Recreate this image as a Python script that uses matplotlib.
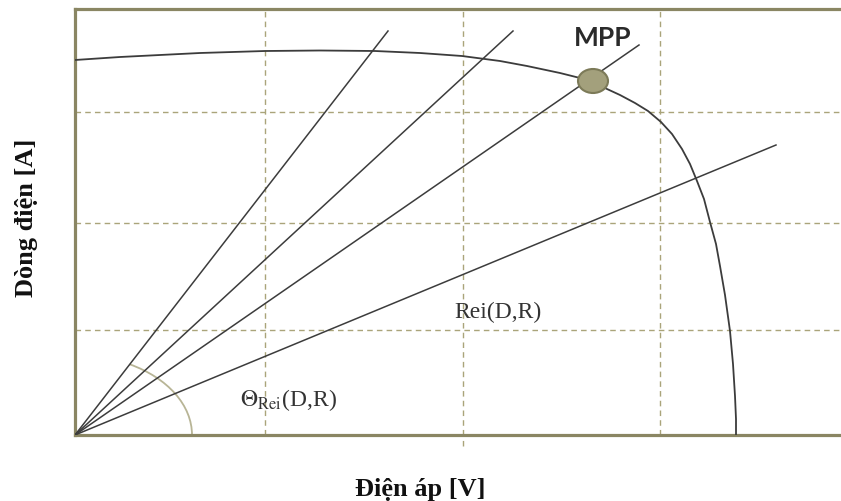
import numpy as np
import matplotlib
matplotlib.use('Agg')
import matplotlib.pyplot as plt
from matplotlib.patches import Arc, Ellipse

# I-V curve of the panel
voltage = [0.0, 0.45, 1.25, 1.90, 2.45, 3.00, 3.45, 3.87, 4.25, 4.52, 4.85,
           5.17, 5.32, 5.45, 5.60, 5.73, 5.86, 5.97, 6.07, 6.15, 6.22, 6.29,
           6.35, 6.41, 6.45, 6.50, 6.55, 6.58, 6.60, 6.61, 6.61]
current = [3.75, 3.78, 3.82, 3.84, 3.845, 3.84, 3.82, 3.79, 3.74, 3.69, 3.62,
           3.54, 3.46, 3.40, 3.32, 3.24, 3.13, 3.01, 2.86, 2.71, 2.54, 2.36,
           2.13, 1.91, 1.69, 1.40, 1.04, 0.71, 0.39, 0.16, 0.0]

# load lines from origin, end points
load_end_v = [3.13, 4.38, 5.64, 7.01]
load_end_i = [4.04, 4.04, 3.90, 2.90]

mpp_v, mpp_i = 5.18, 3.54

grid_v = [1.90, 3.88, 5.85]
grid_i = [1.05, 2.12, 3.23]

olive = '#8a8663'
grid_col = '#aaa47a'
ink = '#3c3c3c'

plt.rcParams['font.family'] = ['Liberation Serif', 'DejaVu Serif']
plt.rcParams['mathtext.fontset'] = 'stix'

fig = plt.figure(figsize=(8.41, 5.02), dpi=100)
ax = fig.add_axes([75/841, 66/502, 766/841, 426/502])
ax.set_xlim(0, 7.66)
ax.set_ylim(0, 4.26)

for s in ['left', 'top', 'bottom']:
	ax.spines[s].set_color(olive)
	ax.spines[s].set_linewidth(2.3)
ax.spines['right'].set_visible(False)
ax.set_xticks([])
ax.set_yticks([])

for gv in grid_v:
	ax.axvline(gv, color=grid_col, lw=1.0, ls=(0, (4, 3)), zorder=1)
for gi in grid_i:
	ax.axhline(gi, color=grid_col, lw=1.0, ls=(0, (4, 3)), zorder=1)
# middle grid line pokes under the axis
ax.plot([grid_v[1], grid_v[1]], [-0.11, 0], color=grid_col, lw=1.0,
	ls=(0, (4, 3)), clip_on=False)

for ev, ei in zip(load_end_v, load_end_i):
	ax.plot([0, ev], [0, ei], color=ink, lw=1.1, zorder=3)

ax.plot(voltage, current, color=ink, lw=1.3, zorder=3)

theta = np.degrees(np.arctan2(load_end_i[0], load_end_v[0]))
ax.add_patch(Arc((0, 0), 2*1.17, 2*0.80, theta1=0, theta2=theta,
	color='#b8b596', lw=1.3, zorder=2))

ax.add_patch(Ellipse((mpp_v, mpp_i), 0.30, 0.24, facecolor='#a3a07c',
	edgecolor='#7c7a58', lw=1.5, zorder=4))

ax.text(5.28, 3.98, 'MPP', family=['Lato', 'DejaVu Sans'], fontweight='bold',
	fontsize=19, color='#2a2a2a', ha='center', va='center')
ax.text(4.23, 1.24, 'Rei(D,R)', fontsize=17, color='#333333',
	ha='center', va='center')
ax.text(1.65, 0.36, r'$\Theta_{\mathrm{Rei}}$(D,R)', fontsize=17,
	color='#333333', ha='left', va='center')

fig.text(420/841, 1 - 490/502, 'Điện áp [V]', fontsize=19, fontweight='bold',
	ha='center', va='center', color='#111111')
fig.text(27/841, 1 - 218/502, 'Dòng điện [A]', fontsize=19, fontweight='bold',
	rotation=90, ha='center', va='center', color='#111111')

fig.savefig('out.png', dpi=100)
